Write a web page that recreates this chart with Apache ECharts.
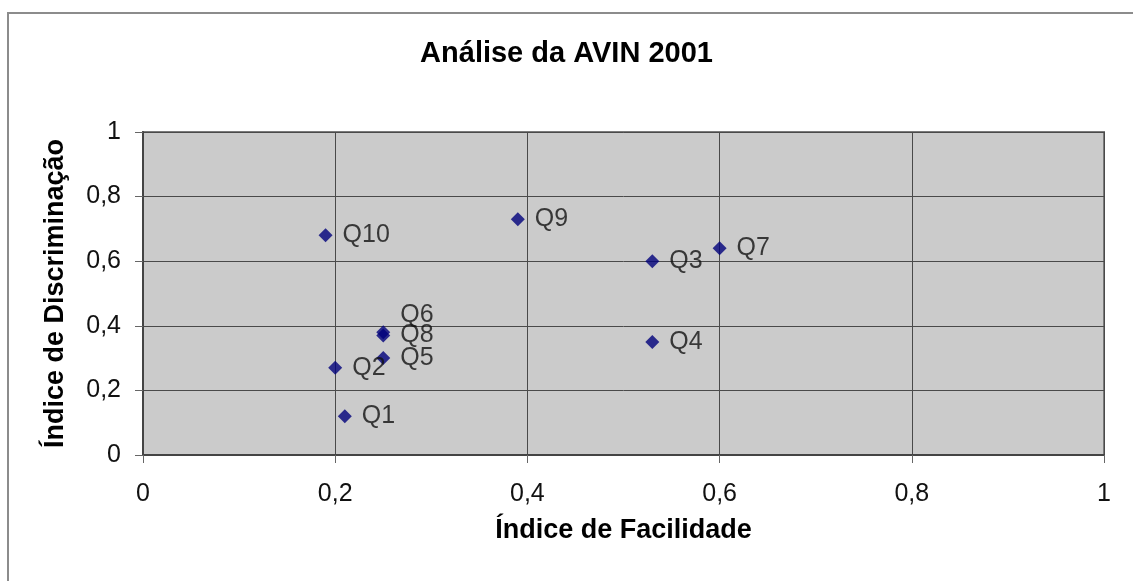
<!DOCTYPE html>
<html>
<head>
<meta charset="utf-8">
<script src="https://cdn.jsdelivr.net/npm/echarts@6/dist/echarts.min.js"></script>
<style>
	html, body { margin: 0; padding: 0; background: #fff; }
	#chart { width: 1133px; height: 581px; }
</style>
</head>
<body>
<div id="chart"></div>
<script>
// questoes e indices
var questoes = ['Q1', 'Q2', 'Q3', 'Q4', 'Q5', 'Q6', 'Q7', 'Q8', 'Q9', 'Q10'];
var facilidade = [0.21, 0.20, 0.53, 0.53, 0.25, 0.25, 0.60, 0.25, 0.39, 0.19];
var discriminacao = [0.12, 0.27, 0.60, 0.35, 0.30, 0.38, 0.64, 0.37, 0.73, 0.68];

var fonte = '"Liberation Sans", Arial, sans-serif';

var pontos = [];
for (var i = 0; i < questoes.length; i++) {
	var item = {
		name: questoes[i],
		value: [facilidade[i], discriminacao[i]]
	};
	// Q6 fica por cima do Q8, rotulo sobe um pouco
	if (questoes[i] == 'Q6') {
		item.label = { offset: [0, -17] };
	}
	pontos.push(item);
}

var virgula = function(v) {
	return String(v).replace('.', ',');
};

var chart = echarts.init(document.getElementById('chart'));
chart.setOption({
	backgroundColor: '#fff',
	animation: false,
	graphic: [{
		type: 'rect',
		z: -10,
		shape: { x: 8, y: 13, width: 1200, height: 650 },
		style: { fill: 'none', stroke: '#8c8c8c', lineWidth: 2 }
	}],
	title: {
		text: 'Análise da AVIN 2001',
		left: 'center',
		top: 34,
		textStyle: {
			fontFamily: fonte,
			fontSize: 29,
			fontWeight: 'bold',
			color: '#000'
		}
	},
	grid: {
		left: 143,
		top: 132,
		width: 961,
		height: 323,
		show: true,
		backgroundColor: '#cbcbcb',
		borderColor: '#7a7a7a',
		borderWidth: 2
	},
	xAxis: {
		type: 'value',
		min: 0,
		max: 1,
		interval: 0.2,
		name: 'Índice de Facilidade',
		nameLocation: 'middle',
		nameGap: 62,
		nameTextStyle: { fontFamily: fonte, fontSize: 27, fontWeight: 'bold', color: '#000' },
		axisLine: { show: true, lineStyle: { color: '#444', width: 2 } },
		axisTick: { show: true, length: 8, lineStyle: { color: '#666' } },
		axisLabel: { margin: 27, fontFamily: fonte, fontSize: 25, color: '#111', formatter: virgula },
		splitLine: { show: true, lineStyle: { color: '#4a4a4a', width: 1 } }
	},
	yAxis: {
		type: 'value',
		min: 0,
		max: 1,
		interval: 0.2,
		name: 'Índice de Discriminação',
		nameLocation: 'middle',
		nameGap: 74,
		nameTextStyle: { fontFamily: fonte, fontSize: 27, fontWeight: 'bold', color: '#000' },
		axisLine: { show: true, lineStyle: { color: '#444', width: 2 } },
		axisTick: { show: true, length: 8, lineStyle: { color: '#666' } },
		axisLabel: { margin: 22, fontFamily: fonte, fontSize: 25, color: '#111', formatter: virgula },
		splitLine: { show: true, lineStyle: { color: '#4a4a4a', width: 1 } }
	},
	series: [{
		type: 'scatter',
		symbol: 'diamond',
		symbolSize: 14,
		itemStyle: { color: '#00007a' },
		label: {
			show: true,
			position: 'right',
			distance: 10,
			formatter: '{b}',
			fontFamily: fonte,
			fontSize: 25,
			color: '#111'
		},
		data: pontos
	}]
});
</script>
</body>
</html>
